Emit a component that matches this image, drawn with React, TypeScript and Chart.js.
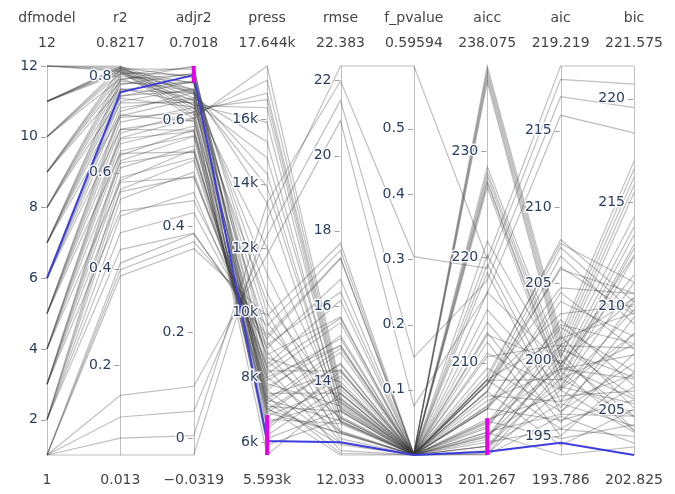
import React, { useEffect, useRef } from "react";
import { Chart, registerables } from "chart.js";
Chart.register(...registerables);

// ---- column definitions ----
const columns = ["dfmodel", "r2", "adjr2", "press", "rmse", "f_pvalue", "aicc", "aic", "bic"];
const maxLabels = ["12", "0.8217", "0.7018", "17.644k", "22.383", "0.59594", "238.075", "219.219", "221.575"];
const minLabels = ["1", "0.013", "\u22120.0319", "5.593k", "12.033", "0.00013", "201.267", "193.786", "202.825"];
const colMin = [1, 0.013, -0.0319, 5593, 12.033, 0.00013, 201.267, 193.786, 202.825];
const colMax = [12, 0.8217, 0.7018, 17644, 22.383, 0.59594, 238.075, 219.219, 221.575];

// ---- model values (one entry per model / line) ----
const dfmodel = [1,1,1,1,1,1,1, 2,2,2,2,2,2, 3,3,3,3,3,3, 4,4,4,4,4,4, 5,5,5,5,5,5, 6,6,6,6,6,6, 7,7,7,7,7,7, 8,8,8,8,8, 9,9,9,9,9, 10,10,10,10, 11,11,11,11,11,11, 12,12,12,12,12];
const r2 = [0.013,0.048,0.092,0.137,0.385,0.398,0.412, 0.44,0.475,0.51,0.545,0.565,0.584, 0.52,0.56,0.59,0.61,0.625,0.636, 0.58,0.62,0.645,0.66,0.672,0.682, 0.64,0.67,0.69,0.705,0.718,0.7275, 0.69,0.715,0.735,0.748,0.758,0.7669, 0.72,0.745,0.76,0.772,0.783,0.7925, 0.755,0.772,0.785,0.795,0.804, 0.775,0.79,0.80,0.808,0.815, 0.795,0.806,0.813,0.819, 0.806,0.813,0.818,0.821,0.81,0.8165, 0.81,0.816,0.8217,0.813,0.819];
const adjr2 = [-0.0319,0.0047,0.0507,0.0978,0.3571,0.3706,0.3853, 0.3867,0.425,0.4633,0.5017,0.5236,0.5444, 0.448,0.494,0.5285,0.5515,0.5688,0.5814, 0.4916,0.54,0.5703,0.5884,0.603,0.615, 0.54,0.5783,0.6039,0.6231,0.6397,0.6518, 0.5806,0.6144,0.6415,0.6591,0.6726,0.6846, 0.5975,0.6334,0.655,0.6723,0.6881,0.7018, 0.6243,0.6504,0.6703,0.6857,0.6995, 0.6304,0.655,0.6714,0.6846,0.6961, 0.6373,0.6568,0.6692,0.6798, 0.6282,0.6416,0.6512,0.6569,0.6358,0.6483, 0.6027,0.6153,0.6272,0.609,0.6215];
const press = [12900,13400,12400,11800,9900,9600,9300, 9200,8900,8400,8100,7600,7300, 9000,8300,7900,7200,6900,6400, 8700,7700,7000,6500,6200,5593, 8000,7400,6800,6600,6100,5900, 8200,7500,7100,6700,7000,6030, 8600,7800,7300,6900,7200,7050, 9400,8500,8000,7600,7400, 10300,9700,9100,8800,8300, 12000,11200,10600,10000, 15900,15300,14300,13400,14800,13900, 17644,16800,16350,17200,16600];
const rmse = [22.383,21.983,21.468,20.93,17.668,17.481,17.276, 17.257,16.708,16.142,15.555,15.209,14.873, 16.371,15.674,15.13,14.757,14.47,14.256, 15.711,14.945,14.445,14.136,13.884,13.671, 14.945,14.308,13.868,13.528,13.227,13.002, 14.27,13.682,13.194,12.866,12.608,12.374, 13.979,13.341,12.943,12.615,12.307,12.033, 13.506,13.029,12.652,12.354,12.08, 13.397,12.942,12.631,12.375,12.148, 13.27,12.909,12.674,12.469, 13.436,13.192,13.014,12.906,13.297,13.068, 13.888,13.667,13.454,13.778,13.556];
const fPvalue = [0.59594,0.304,0.150,0.075,0.0012,0.00095,0.0007, 0.0023,0.0012,0.0006,0.00026,0.00016,0.00014, 0.0012,0.0005,0.0003,0.0002,0.00016,0.00014, 0.0008,0.0004,0.0003,0.0002,0.00016,0.00014, 0.0006,0.0004,0.0003,0.0002,0.00017,0.00015, 0.0008,0.0005,0.0003,0.0002,0.00016,0.00013, 0.0007,0.0004,0.0003,0.0002,0.00016,0.00014, 0.0006,0.0004,0.0003,0.0002,0.00016, 0.0008,0.0005,0.0004,0.0003,0.0002, 0.001,0.0007,0.0005,0.0004, 0.0015,0.0011,0.0009,0.0008,0.0013,0.001, 0.003,0.0025,0.002,0.0028,0.0022];
const aicc = [219.787,218.92,217.785,216.565,208.434,207.921,207.356, 208.814,207.265,205.61,203.831,202.752,201.68, 208.02,205.931,204.237,203.036,202.095,201.381, 208.043,205.641,204.008,202.972,202.109,201.366, 207.951,205.863,204.363,203.172,202.091,201.267, 208.422,206.404,204.657,203.45,202.478,201.579, 210.579,208.334,206.879,205.648,204.461,203.387, 212.631,210.905,209.496,208.353,207.276, 216.653,214.997,213.826,212.847,211.955, 221.496,220.172,219.29,218.508, 228.536,227.654,227.004,226.605,228.036,227.201, 238.075,237.302,236.547,237.69,236.908];
const aic = [219.219,218.349,217.214,215.994,207.863,207.35,206.785, 207.614,206.065,204.41,202.631,201.552,200.48, 205.915,203.826,202.132,200.931,199.99,199.276, 204.71,202.308,200.675,199.639,198.776,198.033, 203.01,200.922,199.422,198.231,197.15,196.327, 201.422,199.404,197.657,196.45,195.478,194.579, 200.979,198.734,197.279,196.048,194.861,193.786, 199.774,198.048,196.639,195.496,194.419, 199.73,198.074,196.903,195.924,195.032, 199.496,198.172,197.29,196.508, 200.172,199.29,198.64,198.241,199.672,198.837, 201.675,200.902,200.147,201.29,200.508];
const bic = [221.575,220.705,219.57,218.35,210.219,209.706,209.141, 211.148,209.599,207.944,206.165,205.086,204.014, 210.627,208.538,206.844,205.643,204.702,203.988, 210.601,208.199,206.566,205.53,204.667,203.924, 210.079,207.991,206.491,205.3,204.219,203.396, 209.669,207.651,205.904,204.697,203.725,202.825, 210.404,208.159,206.704,205.473,204.286,203.212, 210.377,208.651,207.242,206.099,205.022, 211.511,209.855,208.684,207.705,206.813, 212.455,211.131,210.249,209.467, 214.309,213.427,212.777,212.378,213.809,212.974, 216.99,216.217,215.462,216.605,215.823];
const highlighted = 36;

// ---- brushes (constraint ranges) ----
const brushCols = [2, 3, 6];
const brushLo = [0.67, 5593, 201.267];
const brushHi = [0.7018, 6830, 204.75];

// ---- ticks per axis ----
const dfmodelTicks = [2, 4, 6, 8, 10, 12];
const r2Ticks = [0.2, 0.4, 0.6, 0.8];
const adjr2Ticks = [0, 0.2, 0.4, 0.6];
const pressTicks = [6000, 8000, 10000, 12000, 14000, 16000];
const pressTickText = ["6k", "8k", "10k", "12k", "14k", "16k"];
const rmseTicks = [14, 16, 18, 20, 22];
const fPvalueTicks = [0.1, 0.2, 0.3, 0.4, 0.5];
const aiccTicks = [210, 220, 230];
const aicTicks = [195, 200, 205, 210, 215];
const bicTicks = [205, 210, 215, 220];

export default function App() {
  const ref = useRef<HTMLCanvasElement>(null);
  useEffect(() => {
    const series = [dfmodel, r2, adjr2, press, rmse, fPvalue, aicc, aic, bic];
    const allTicks = [dfmodelTicks, r2Ticks, adjr2Ticks, pressTicks, rmseTicks, fPvalueTicks, aiccTicks, aicTicks, bicTicks];
    const allTickText = allTicks.map((t, j) => (j === 3 ? pressTickText : t.map((v) => String(v))));
    const norm = (j: number, v: number) => (v - colMin[j]) / (colMax[j] - colMin[j]);
    const row = (i: number) => series.map((s, j) => norm(j, s[i]));

    const datasets: any[] = [];
    datasets.push({ data: row(highlighted), borderColor: "rgb(62,62,222)", borderWidth: 2, pointRadius: 0, clip: false });
    dfmodel.forEach((_, i) => {
      if (i === highlighted) return;
      datasets.push({ data: row(i), borderColor: "rgba(55,55,55,0.32)", borderWidth: 1.2, pointRadius: 0, clip: false });
    });

    const plugin = {
      id: "parcoords",
      beforeDatasetsDraw(chart: any) {
        const { ctx, scales } = chart;
        const xs = scales.x, ys = scales.y;
        ctx.save();
        ctx.strokeStyle = "rgba(150,150,150,0.6)";
        ctx.lineWidth = 1;
        columns.forEach((_, j) => {
          const x = Math.round(xs.getPixelForValue(j)) + 0.5;
          ctx.beginPath();
          ctx.moveTo(x, ys.getPixelForValue(1));
          ctx.lineTo(x, ys.getPixelForValue(0));
          ctx.stroke();
        });
        ctx.restore();
      },
      afterDatasetsDraw(chart: any) {
        const { ctx, scales } = chart;
        const xs = scales.x, ys = scales.y;
        ctx.save();
        // brushes
        ctx.strokeStyle = "rgb(232,0,232)";
        ctx.lineWidth = 4;
        brushCols.forEach((j, k) => {
          const x = xs.getPixelForValue(j);
          ctx.beginPath();
          ctx.moveTo(x, ys.getPixelForValue(norm(j, brushHi[k])));
          ctx.lineTo(x, ys.getPixelForValue(norm(j, brushLo[k])));
          ctx.stroke();
        });
        // ticks
        ctx.font = '14px "DejaVu Sans"';
        ctx.textBaseline = "middle";
        columns.forEach((_, j) => {
          const x = xs.getPixelForValue(j);
          allTicks[j].forEach((v, k) => {
            const y = ys.getPixelForValue(norm(j, v));
            ctx.strokeStyle = "rgba(150,150,150,0.9)";
            ctx.lineWidth = 1;
            ctx.beginPath();
            ctx.moveTo(x - 6, Math.round(y) + 0.5);
            ctx.lineTo(x - 1, Math.round(y) + 0.5);
            ctx.stroke();
            ctx.textAlign = "right";
            ctx.lineWidth = 3;
            ctx.strokeStyle = "rgba(255,255,255,0.9)";
            ctx.strokeText(allTickText[j][k], x - 9, y);
            ctx.fillStyle = "#2a3f5f";
            ctx.fillText(allTickText[j][k], x - 9, y);
          });
          // headers
          ctx.textAlign = "center";
          ctx.fillStyle = "#444";
          ctx.fillText(columns[j], x, 18);
          ctx.fillText(maxLabels[j], x, 43);
          ctx.fillText(minLabels[j], x, 480);
        });
        ctx.restore();
      },
    };

    const chart = new Chart(ref.current as HTMLCanvasElement, {
      type: "line",
      data: { labels: columns, datasets },
      options: {
        animation: false,
        responsive: false,
        events: [],
        layout: { padding: { left: 47, right: 41, top: 66, bottom: 39 } },
        scales: {
          x: { display: false, offset: false },
          y: { display: false, min: 0, max: 1 },
        },
        elements: { point: { radius: 0 }, line: { tension: 0 } },
        plugins: { legend: { display: false }, tooltip: { enabled: false } },
      },
      plugins: [plugin],
    } as any);
    return () => chart.destroy();
  }, []);
  return (
    <div style={{ position: "fixed", left: 0, top: 0, width: 675, height: 494, background: "#fff" }}>
      <canvas ref={ref} width={675} height={494} style={{ display: "block" }} />
    </div>
  );
}
